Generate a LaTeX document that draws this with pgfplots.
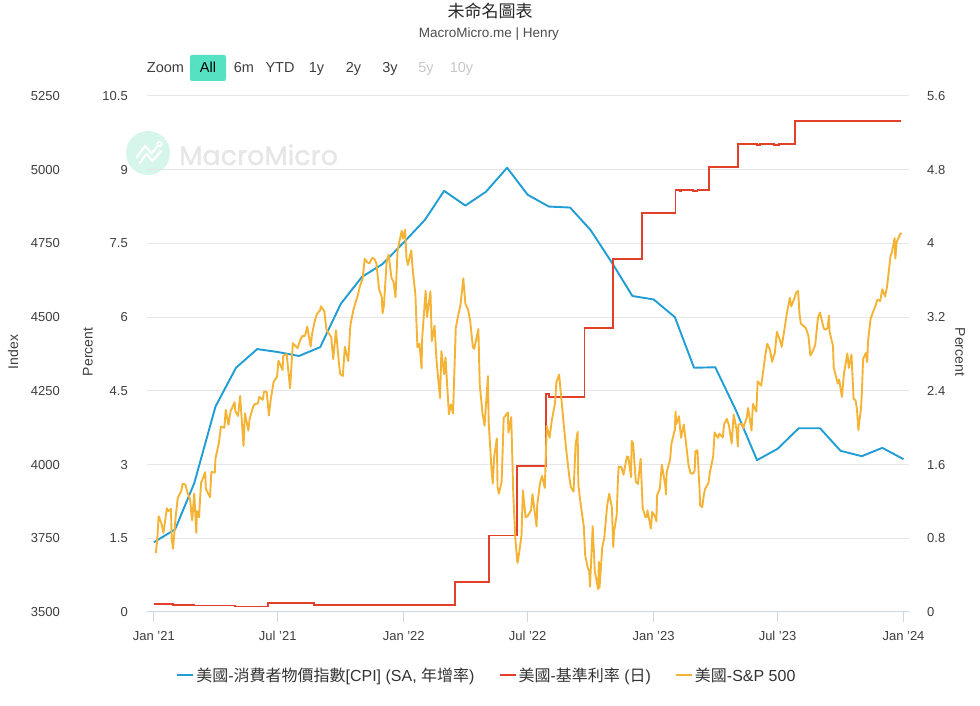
\documentclass[border=0pt]{standalone}
\usepackage{pgfplots}
\pgfplotsset{compat=1.18}
\usepgfplotslibrary{dateplot}
\usepackage{pgfplotstable}
\usepackage{fontspec}
\setmainfont{Liberation Sans}
\newfontfamily\cjk{Noto Sans CJK TC}
\newfontfamily\wmfont{Poppins}[FakeBold=1.2]
\definecolor{cpiblue}{HTML}{1F9DD4}
\definecolor{ratered}{HTML}{E2402A}
\definecolor{spxorange}{HTML}{F5B335}
\definecolor{gridgray}{HTML}{E6E6E6}
\definecolor{axisgray}{HTML}{CCD6EB}
\definecolor{labelgray}{HTML}{3D3D3D}
\definecolor{mint}{HTML}{55E2C3}
\definecolor{wmgray}{HTML}{E6E6E6}
\definecolor{wmmint}{HTML}{D6F6EC}

\pgfplotstableread{
date v
2021-01-01 1.42
2021-02-01 1.68
2021-03-01 2.62
2021-04-01 4.18
2021-05-01 4.97
2021-06-01 5.35
2021-07-01 5.29
2021-08-01 5.21
2021-09-01 5.39
2021-10-01 6.27
2021-11-01 6.82
2021-12-01 7.08
2022-01-01 7.52
2022-02-01 7.98
2022-03-01 8.57
2022-04-01 8.27
2022-05-01 8.55
2022-06-01 9.04
2022-07-01 8.49
2022-08-01 8.25
2022-09-01 8.23
2022-10-01 7.77
2022-11-01 7.11
2022-12-01 6.43
2023-01-01 6.36
2023-02-01 6.00
2023-03-01 4.97
2023-04-01 4.98
2023-05-01 4.11
2023-06-01 3.09
2023-07-01 3.32
2023-08-01 3.74
2023-09-01 3.74
2023-10-01 3.28
2023-11-01 3.17
2023-12-01 3.34
2024-01-01 3.11
}\cpidata

\pgfplotstableread{
date v
2021-01-01 0.09
2021-01-29 0.08
2021-03-01 0.07
2021-04-30 0.06
2021-05-03 0.06
2021-06-17 0.10
2021-07-09 0.10
2021-08-23 0.08
2021-12-31 0.07
2022-01-03 0.08
2022-03-17 0.33
2022-05-05 0.83
2022-06-16 1.58
2022-07-28 2.37
2022-08-01 2.33
2022-09-22 3.08
2022-11-03 3.83
2022-12-15 4.33
2023-02-02 4.58
2023-02-08 4.57
2023-02-10 4.58
2023-02-27 4.57
2023-03-06 4.58
2023-03-23 4.83
2023-05-04 5.08
2023-06-01 5.07
2023-06-05 5.08
2023-06-26 5.07
2023-07-03 5.08
2023-07-27 5.33
2023-12-29 5.33
}\ratedata

\pgfplotstableread{
date v
2021-01-04 3700.65
2021-01-06 3748.14
2021-01-08 3824.68
2021-01-12 3801.19
2021-01-15 3768.25
2021-01-20 3851.85
2021-01-22 3841.47
2021-01-26 3849.62
2021-01-27 3750.77
2021-01-29 3714.24
2021-02-02 3826.31
2021-02-05 3886.83
2021-02-10 3909.88
2021-02-12 3934.83
2021-02-16 3932.59
2021-02-19 3906.71
2021-02-23 3881.37
2021-02-25 3829.34
2021-02-26 3811.15
2021-03-01 3901.82
2021-03-04 3768.47
2021-03-05 3841.94
2021-03-08 3821.35
2021-03-11 3939.34
2021-03-12 3943.34
2021-03-17 3974.12
2021-03-18 3915.46
2021-03-19 3913.10
2021-03-24 3889.14
2021-03-26 3974.54
2021-03-31 3972.89
2021-04-01 4019.87
2021-04-06 4073.94
2021-04-09 4128.80
2021-04-14 4124.66
2021-04-16 4185.47
2021-04-20 4134.94
2021-04-23 4180.17
2021-04-29 4211.47
2021-04-30 4181.17
2021-05-04 4164.66
2021-05-07 4232.60
2021-05-12 4063.04
2021-05-14 4173.85
2021-05-19 4115.68
2021-05-21 4155.86
2021-05-26 4195.99
2021-05-28 4204.11
2021-06-02 4208.12
2021-06-04 4229.89
2021-06-09 4219.55
2021-06-11 4247.44
2021-06-15 4246.59
2021-06-18 4166.45
2021-06-21 4224.79
2021-06-25 4280.70
2021-06-30 4297.50
2021-07-02 4352.34
2021-07-08 4320.82
2021-07-09 4369.55
2021-07-14 4374.30
2021-07-16 4327.16
2021-07-19 4258.49
2021-07-23 4411.79
2021-07-27 4401.46
2021-07-30 4395.26
2021-08-03 4423.15
2021-08-06 4436.52
2021-08-10 4436.75
2021-08-13 4468.00
2021-08-18 4400.27
2021-08-20 4441.67
2021-08-24 4486.23
2021-08-27 4509.37
2021-09-01 4524.09
2021-09-02 4536.95
2021-09-07 4520.03
2021-09-10 4458.58
2021-09-14 4443.05
2021-09-17 4432.99
2021-09-20 4357.73
2021-09-24 4455.48
2021-09-28 4352.63
2021-09-30 4307.54
2021-10-04 4300.46
2021-10-07 4399.76
2021-10-12 4350.65
2021-10-15 4471.37
2021-10-19 4519.63
2021-10-22 4544.90
2021-10-26 4574.79
2021-10-29 4605.38
2021-11-02 4630.65
2021-11-05 4697.53
2021-11-09 4685.25
2021-11-12 4682.85
2021-11-16 4700.90
2021-11-19 4697.96
2021-11-22 4682.94
2021-11-26 4594.62
2021-11-30 4567.00
2021-12-01 4513.04
2021-12-03 4538.43
2021-12-07 4686.75
2021-12-10 4712.02
2021-12-14 4634.09
2021-12-17 4620.64
2021-12-20 4568.02
2021-12-23 4725.79
2021-12-29 4793.06
2021-12-31 4766.18
2022-01-03 4796.56
2022-01-05 4700.58
2022-01-07 4677.03
2022-01-12 4726.35
2022-01-14 4662.85
2022-01-18 4577.11
2022-01-21 4397.94
2022-01-24 4410.13
2022-01-27 4326.51
2022-01-28 4431.85
2022-02-02 4589.38
2022-02-04 4500.53
2022-02-09 4587.18
2022-02-11 4418.64
2022-02-15 4471.07
2022-02-18 4348.87
2022-02-23 4225.50
2022-02-25 4384.65
2022-03-01 4306.26
2022-03-03 4363.49
2022-03-08 4170.70
2022-03-11 4204.31
2022-03-14 4173.11
2022-03-18 4463.12
2022-03-22 4511.61
2022-03-25 4543.06
2022-03-29 4631.60
2022-04-01 4545.86
2022-04-05 4525.12
2022-04-08 4488.28
2022-04-12 4397.45
2022-04-14 4392.59
2022-04-20 4459.45
2022-04-22 4271.78
2022-04-26 4175.20
2022-04-29 4131.93
2022-05-04 4300.17
2022-05-05 4146.87
2022-05-09 3991.24
2022-05-11 3935.18
2022-05-13 4023.89
2022-05-17 4088.85
2022-05-18 3923.68
2022-05-20 3901.36
2022-05-24 3941.48
2022-05-27 4158.24
2022-06-02 4176.82
2022-06-03 4108.54
2022-06-07 4160.68
2022-06-10 3900.86
2022-06-13 3749.63
2022-06-16 3666.77
2022-06-17 3674.84
2022-06-22 3759.89
2022-06-24 3911.74
2022-06-28 3821.55
2022-07-01 3825.33
2022-07-06 3845.08
2022-07-08 3899.38
2022-07-14 3790.38
2022-07-15 3863.16
2022-07-19 3936.69
2022-07-22 3961.63
2022-07-26 3921.05
2022-07-29 4130.29
2022-08-02 4091.19
2022-08-05 4145.19
2022-08-10 4210.24
2022-08-12 4280.15
2022-08-16 4305.20
2022-08-19 4228.48
2022-08-23 4128.73
2022-08-26 4057.66
2022-08-31 3955.00
2022-09-02 3924.26
2022-09-06 3908.19
2022-09-09 4067.36
2022-09-12 4110.41
2022-09-13 3932.69
2022-09-16 3873.33
2022-09-21 3789.93
2022-09-23 3693.23
2022-09-27 3647.29
2022-09-29 3640.47
2022-09-30 3585.62
2022-10-04 3790.93
2022-10-07 3639.66
2022-10-12 3577.03
2022-10-13 3669.91
2022-10-14 3583.07
2022-10-18 3719.98
2022-10-21 3752.75
2022-10-25 3859.11
2022-10-28 3901.06
2022-11-01 3856.10
2022-11-03 3719.89
2022-11-04 3770.55
2022-11-08 3828.11
2022-11-10 3956.37
2022-11-11 3992.93
2022-11-15 3991.73
2022-11-18 3965.34
2022-11-23 4027.26
2022-11-25 4026.12
2022-11-29 3957.63
2022-11-30 4080.11
2022-12-02 4071.70
2022-12-06 3941.26
2022-12-09 3934.38
2022-12-13 4019.65
2022-12-16 3852.36
2022-12-20 3821.62
2022-12-22 3822.39
2022-12-23 3844.82
2022-12-28 3783.22
2022-12-30 3839.50
2023-01-03 3824.14
2023-01-05 3808.10
2023-01-06 3895.08
2023-01-10 3919.25
2023-01-13 3999.09
2023-01-18 3928.86
2023-01-19 3898.85
2023-01-20 3972.61
2023-01-25 4016.22
2023-01-27 4070.56
2023-02-01 4119.21
2023-02-02 4179.76
2023-02-03 4136.48
2023-02-07 4164.00
2023-02-10 4090.46
2023-02-14 4136.13
2023-02-17 4079.09
2023-02-21 3997.34
2023-02-24 3970.04
2023-02-28 3970.15
2023-03-02 3981.35
2023-03-03 4045.64
2023-03-06 4048.42
2023-03-09 3918.32
2023-03-10 3861.59
2023-03-13 3855.76
2023-03-15 3891.93
2023-03-17 3916.64
2023-03-22 3936.97
2023-03-24 3970.99
2023-03-29 4027.81
2023-03-31 4109.31
2023-04-05 4090.38
2023-04-07 4105.02
2023-04-12 4091.95
2023-04-14 4137.64
2023-04-18 4154.87
2023-04-21 4133.52
2023-04-25 4071.63
2023-04-28 4169.48
2023-05-02 4119.58
2023-05-04 4061.22
2023-05-05 4136.25
2023-05-10 4137.64
2023-05-12 4124.08
2023-05-17 4158.77
2023-05-19 4191.98
2023-05-24 4115.24
2023-05-26 4205.45
2023-05-31 4179.83
2023-06-02 4282.37
2023-06-07 4267.52
2023-06-09 4298.86
2023-06-13 4369.01
2023-06-16 4409.59
2023-06-20 4388.71
2023-06-23 4348.33
2023-06-27 4378.41
2023-06-30 4450.38
2023-07-06 4411.59
2023-07-07 4398.95
2023-07-12 4472.16
2023-07-14 4505.42
2023-07-19 4565.72
2023-07-21 4536.34
2023-07-26 4566.75
2023-07-28 4582.23
2023-07-31 4588.96
2023-08-02 4513.39
2023-08-04 4478.03
2023-08-09 4467.71
2023-08-11 4464.05
2023-08-15 4437.86
2023-08-18 4369.71
2023-08-22 4387.55
2023-08-25 4405.71
2023-08-29 4497.63
2023-09-01 4515.77
2023-09-06 4465.48
2023-09-08 4457.49
2023-09-12 4461.90
2023-09-14 4505.10
2023-09-15 4450.32
2023-09-20 4402.20
2023-09-21 4330.00
2023-09-22 4320.06
2023-09-27 4274.51
2023-09-29 4288.05
2023-10-03 4229.45
2023-10-06 4308.50
2023-10-11 4376.95
2023-10-13 4327.78
2023-10-17 4373.20
2023-10-20 4224.16
2023-10-23 4217.04
2023-10-25 4186.77
2023-10-27 4117.37
2023-10-31 4193.80
2023-11-01 4237.86
2023-11-03 4358.34
2023-11-07 4378.38
2023-11-09 4347.35
2023-11-10 4415.24
2023-11-14 4495.70
2023-11-17 4514.02
2023-11-21 4538.19
2023-11-24 4559.34
2023-11-28 4554.89
2023-12-01 4594.63
2023-12-05 4569.78
2023-12-08 4604.37
2023-12-13 4707.09
2023-12-15 4719.19
2023-12-19 4768.37
2023-12-20 4698.35
2023-12-22 4754.63
2023-12-27 4781.58
2023-12-28 4783.35
2023-12-29 4785.00
}\spxdata

\pgfplotsset{
  base/.style={
    scale only axis, width=762pt, height=516pt,
    at={(147pt,94pt)}, anchor=south west,
    date coordinates in=x, date ZERO=2021-01-01,
    xmin=2020-12-22, xmax=2024-01-09,
    axis line style={draw=none},
    ytick style={draw=none},
    /pgf/number format/assume math mode=true,
    /pgf/number format/1000 sep={},
    ticklabel style={font=\fontsize{13}{15}\selectfont, text=labelgray},
    clip=false,
  },
  noxaxis/.style={xtick=\empty, xticklabels={}},
}

\begin{document}
\begin{tikzpicture}
\useasboundingbox (0,0) rectangle (980pt,706pt);

% watermark
\fill[wmmint] (148pt,553pt) circle (22pt);
\draw[white, line width=2.2pt, line join=round, line cap=round]
  (136.5pt,548.5pt) -- (145pt,560pt) -- (151.5pt,552.5pt) -- (157pt,559pt);
\draw[white, line width=2.2pt, line join=round, line cap=round]
  (140pt,543pt) -- (146.5pt,552pt) -- (152.5pt,545pt) -- (161pt,555pt);
\draw[white, line width=1.6pt] (159.5pt,562pt) circle (2.2pt);
\node[anchor=base west, inner sep=0pt, text=wmgray, font=\wmfont\fontsize{27}{30}\selectfont] at (179pt,541pt) {MacroMicro};

% title and subtitle
\node[font=\cjk\fontsize{17}{20}\selectfont, text=black!85] at (490pt,695pt) {未命名圖表};
\node[font=\fontsize{13.5}{15}\selectfont, text=black!70] at (489pt,672pt) {MacroMicro.me | Henry};

% range selector
\fill[mint, rounded corners=2pt] (190pt,625pt) rectangle (226pt,651pt);
\begin{scope}[every node/.style={font=\fontsize{14.5}{16}\selectfont, inner sep=0pt, anchor=base}]
\node[text=labelgray] at (165.5pt,633pt) {Zoom};
\node[text=black] at (208pt,633pt) {All};
\node[text=labelgray] at (244pt,633pt) {6m};
\node[text=labelgray] at (280pt,633pt) {YTD};
\node[text=labelgray] at (316.5pt,633pt) {1y};
\node[text=labelgray] at (353.5pt,633pt) {2y};
\node[text=labelgray] at (390pt,633pt) {3y};
\node[text=black!22] at (426pt,633pt) {5y};
\node[text=black!22] at (461.5pt,633pt) {10y};
\end{scope}

% axis titles
\begin{scope}[every node/.style={font=\fontsize{14}{16}\selectfont, text=labelgray, inner sep=0pt}]
\node[rotate=90] at (13pt,354pt) {Index};
\node[rotate=90] at (88pt,354pt) {Percent};
\node[rotate=-90] at (960pt,354pt) {Percent};
\end{scope}

% axis 1: grid, Index labels, x axis
\begin{axis}[base,
  ymin=3500, ymax=5250, ytick={3500,3750,4000,4250,4500,4750,5000,5250},
  ymajorgrids, grid style={gridgray, line width=1pt},
  ytick pos=left,
  yticklabel style={anchor=east, inner sep=0pt, xshift=-87pt},
  xtick={2021-01-01,2021-07-01,2022-01-01,2022-07-01,2023-01-01,2023-07-01,2024-01-01},
  xticklabels={Jan '21,Jul '21,Jan '22,Jul '22,Jan '23,Jul '23,Jan '24},
  xtick pos=left,
  major tick length=10pt,
  xtick style={draw=axisgray, line width=1pt, yshift=-10pt},
  xticklabel style={anchor=center, inner sep=0pt, yshift=-24pt},
]
\draw[axisgray, line width=1pt] (rel axis cs:0,0) -- (rel axis cs:1,0);
\end{axis}

% axis 2: CPI
\begin{axis}[base, noxaxis,
  ymin=0, ymax=10.5, ytick={0,1.5,3,4.5,6,7.5,9,10.5},
  ytick pos=left,
  yticklabel style={anchor=east, inner sep=0pt, xshift=-19pt},
]
\addplot[cpiblue, line width=1.9pt, line join=round, no markers] table[x=date, y=v] {\cpidata};
\end{axis}

% axis 3: Fed rate
\begin{axis}[base, noxaxis,
  ymin=0, ymax=5.6, ytick={0,0.8,1.6,2.4,3.2,4,4.8,5.6},
  ytick pos=right, yticklabel pos=right,
  yticklabel style={anchor=west, inner sep=0pt, xshift=18pt},
]
\addplot[ratered, line width=1.9pt, const plot, no markers] table[x=date, y=v] {\ratedata};
\end{axis}

% axis 4: S&P 500 (on Index axis)
\begin{axis}[base, noxaxis,
  ymin=3500, ymax=5250, ytick=\empty,
  legend style={at={(0.446,-0.1221)}, anchor=center, draw=none, fill=none,
    legend columns=3, font=\fontsize{16}{18}\selectfont, text=black!80,
    /tikz/every even column/.append style={column sep=22pt}},
  legend image code/.code={\draw[#1, line width=2pt] (0pt,0pt) -- (16pt,0pt);},
]
\addlegendimage{cpiblue}
\addlegendentry{{\cjk 美國}-{\cjk 消費者物價指數}[CPI] (SA, {\cjk 年增率})}
\addlegendimage{ratered}
\addlegendentry{{\cjk 美國}-{\cjk 基準利率} ({\cjk 日})}
\addplot[spxorange, line width=1.9pt, line join=round, no markers] table[x=date, y=v] {\spxdata};
\addlegendentry{{\cjk 美國}-S\&P 500}
\end{axis}
\end{tikzpicture}
\end{document}
